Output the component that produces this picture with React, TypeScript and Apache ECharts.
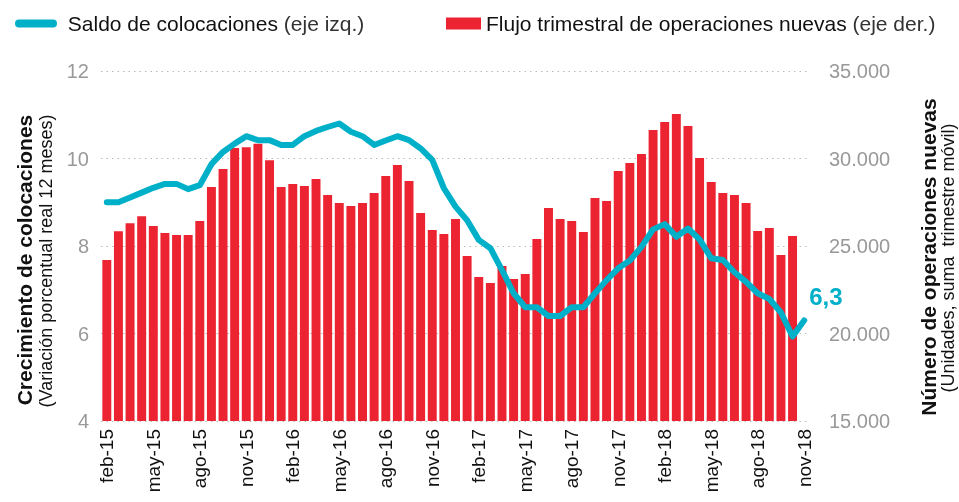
import React, { useEffect, useRef } from "react";
import * as echarts from "echarts";

// Tick labels of the category axis (one every 4 periods)
const tickLabels = [
  "feb-15", "may-15", "ago-15", "nov-15",
  "feb-16", "may-16", "ago-16", "nov-16",
  "feb-17", "may-17", "ago-17", "nov-17",
  "feb-18", "may-18", "ago-18", "nov-18",
];
const categories: string[] = Array.from({ length: 61 }, (_, i) =>
  i % 4 === 0 ? tickLabels[i / 4] : ""
);

// Saldo de colocaciones (left axis, %)
const saldo = [
  9.0, 9.0, 9.11, 9.22, 9.33, 9.42, 9.42, 9.3, 9.39, 9.87,
  10.15, 10.34, 10.51, 10.42, 10.42, 10.31, 10.31, 10.51, 10.63, 10.72,
  10.8, 10.61, 10.51, 10.31, 10.41, 10.51, 10.42, 10.23, 9.97, 9.32,
  8.9, 8.59, 8.14, 7.95, 7.45, 6.92, 6.6, 6.6, 6.4, 6.4,
  6.6, 6.6, 6.92, 7.22, 7.49, 7.67, 7.98, 8.38, 8.5, 8.21,
  8.4, 8.15, 7.72, 7.68, 7.4, 7.18, 6.92, 6.79, 6.48, 5.93,
  6.3,
];

// Flujo trimestral de operaciones nuevas (right axis, units)
const flujo: (number | null)[] = [
  24200, 25850, 26300, 26700, 26150, 25750, 25630, 25630, 26430, 28370,
  29400, 30600, 30650, 30850, 29900, 28370, 28540, 28430, 28830, 27910,
  27460, 27290, 27460, 28030, 29000, 29630, 28710, 26890, 25910, 25690,
  26540, 24430, 23230, 22890, 23860, 23110, 23400, 25400, 27170, 26540,
  26430, 25800, 27740, 27570, 29290, 29740, 30260, 31630, 32090, 32540,
  31860, 30030, 28660, 28030, 27910, 27460, 25860, 26030, 24490, 25570,
  null,
];

const leftTicks = { min: 4, max: 12, interval: 2 };
const rightTicks = { min: 15000, max: 35000, interval: 5000 };

const TEAL = "#00B0C8";
const RED = "#EC2330";
const FONT = '"Liberation Sans", Arial, Helvetica, sans-serif';

export default function App() {
  const ref = useRef<HTMLDivElement>(null);

  useEffect(() => {
    if (!ref.current) return;
    const chart = echarts.init(ref.current, null, { renderer: "svg" });

    const lineData = saldo.map((v, i) =>
      i === saldo.length - 1
        ? {
            value: v,
            label: {
              show: true,
              position: "right",
              distance: 4,
              offset: [0, -24],
              formatter: () => String(v).replace(".", ","),
              color: TEAL,
              fontSize: 24,
              fontWeight: "bold",
              fontFamily: FONT,
            },
          }
        : v
    );

    chart.setOption({
      animation: false,
      textStyle: { fontFamily: FONT },
      grid: {
        left: 101,
        right: 149,
        top: 71,
        bottom: 81,
        outerBoundsMode: "none",
        containLabel: false,
      },
      legend: [
        {
          data: [{ name: "Saldo de colocaciones", icon: "path://M4,0 H38 A4,4 0 0 1 38,8 H4 A4,4 0 0 1 4,0 Z" }],
          left: 15,
          top: 13,
          padding: 0,
          itemWidth: 42,
          itemHeight: 8,
          itemStyle: { color: TEAL },
          formatter: (n: string) => ` {a|${n}} {b|(eje izq.)}`,
          textStyle: {
            fontFamily: FONT,
            fontSize: 21,
            color: "#111",
            rich: {
              a: { fontSize: 21, color: "#111", fontFamily: FONT },
              b: { fontSize: 21, color: "#333", fontFamily: FONT },
            },
          },
        },
        {
          data: [{ name: "Flujo trimestral de operaciones nuevas", icon: "rect" }],
          left: 446,
          top: 13,
          padding: 0,
          itemWidth: 35,
          itemHeight: 12,
          itemStyle: { color: RED },
          formatter: (n: string) => `{a|${n}} {b|(eje der.)}`,
          textStyle: {
            fontFamily: FONT,
            fontSize: 21,
            color: "#111",
            rich: {
              a: { fontSize: 21, color: "#111", fontFamily: FONT },
              b: { fontSize: 21, color: "#333", fontFamily: FONT },
            },
          },
        },
      ],
      xAxis: {
        type: "category",
        data: categories,
        boundaryGap: true,
        axisLine: { show: false },
        axisTick: { show: false },
        splitLine: { show: false },
        axisLabel: {
          interval: 0,
          rotate: 90,
          margin: 8,
          color: "#111",
          fontSize: 19,
          fontFamily: FONT,
        },
      },
      yAxis: [
        {
          type: "value",
          position: "left",
          min: leftTicks.min,
          max: leftTicks.max,
          interval: leftTicks.interval,
          axisLine: { show: false },
          axisTick: { show: false },
          axisLabel: { color: "#999", fontSize: 20, margin: 12, fontFamily: FONT },
          splitLine: {
            show: true,
            lineStyle: { color: "#bbb", width: 1.2, type: [1.5, 4] },
          },
        },
        {
          type: "value",
          position: "right",
          min: rightTicks.min,
          max: rightTicks.max,
          interval: rightTicks.interval,
          axisLine: { show: false },
          axisTick: { show: false },
          splitLine: { show: false },
          axisLabel: {
            color: "#999",
            fontSize: 20,
            margin: 19,
            fontFamily: FONT,
            formatter: (v: number) => v.toLocaleString("de-DE"),
          },
        },
      ],
      series: [
        {
          name: "Flujo trimestral de operaciones nuevas",
          type: "bar",
          yAxisIndex: 1,
          data: flujo,
          barWidth: "77%",
          itemStyle: { color: RED },
          z: 2,
        },
        {
          name: "Saldo de colocaciones",
          type: "line",
          yAxisIndex: 0,
          data: lineData,
          symbol: "circle",
          symbolSize: 2,
          showSymbol: true,
          itemStyle: { color: TEAL },
          lineStyle: { color: TEAL, width: 6, cap: "round", join: "round" },
          z: 3,
        },
      ],
      graphic: [
        {
          type: "text",
          x: 24,
          y: 260,
          rotation: Math.PI / 2,
          style: {
            text: "Crecimiento de colocaciones",
            fontSize: 21,
            fontWeight: "bold",
            fontFamily: FONT,
            fill: "#111",
            align: "center",
            verticalAlign: "middle",
          },
        },
        {
          type: "text",
          x: 46,
          y: 261,
          rotation: Math.PI / 2,
          style: {
            text: "(Variación porcentual real 12 meses)",
            fontSize: 18,
            fontFamily: FONT,
            fill: "#111",
            align: "center",
            verticalAlign: "middle",
          },
        },
        {
          type: "text",
          x: 928,
          y: 257,
          rotation: Math.PI / 2,
          style: {
            text: "Número de operaciones nuevas",
            fontSize: 21,
            fontWeight: "bold",
            fontFamily: FONT,
            fill: "#111",
            align: "center",
            verticalAlign: "middle",
          },
        },
        {
          type: "text",
          x: 948,
          y: 258,
          rotation: Math.PI / 2,
          style: {
            text: "(Unidades, suma  trimestre móvil)",
            fontSize: 18,
            fontFamily: FONT,
            fill: "#111",
            align: "center",
            verticalAlign: "middle",
          },
        },
      ],
    });

    return () => chart.dispose();
  }, []);

  return (
    <div
      ref={ref}
      style={{ position: "fixed", left: 0, top: 0, width: 959, height: 502 }}
    />
  );
}
